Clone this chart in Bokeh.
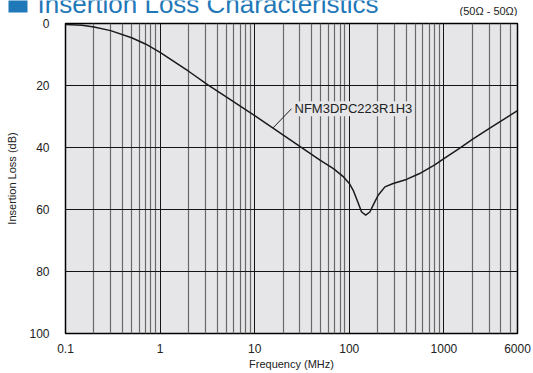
import numpy as np
from bokeh.plotting import figure
from bokeh.layouts import column
from bokeh.models import ColumnDataSource, FixedTicker, Label, Range1d
from bokeh.core.properties import value
from bokeh.embed import file_html
from bokeh.resources import INLINE

# ---- data ----
freq_mhz = [0.1, 0.15, 0.2, 0.3, 0.5, 0.7, 1, 1.5, 2, 3.2, 5, 10, 30, 49, 68, 87, 100, 110, 121, 135,
            149, 165, 182, 202, 238, 291, 402, 554, 800, 1000, 1460, 2000, 3000, 6000]
loss_db = [0.3, 0.6, 1.1, 2.3, 4.6, 6.6, 9.3, 12.9, 15.4, 19.8, 23.7, 29.7, 39.6, 44.1, 46.8, 49.5, 51.6,
           53.8, 57.0, 60.8, 61.8, 60.8, 58.1, 55.4, 52.7, 51.6, 50.3, 48.4, 45.6, 43.6, 40.3, 37.4, 33.9, 28.1]

x_tick_values = [0.1, 1, 10, 100, 1000, 6000]
x_tick_labels = ["0.1", "1", "10", "100", "1000", "6000"]
y_tick_values = [0, 20, 40, 60, 80, 100]
y_grid_values = [20, 40, 60, 80]

part_name = "NFM3DPC223R1H3"
title_text = "Insertion Loss Characteristics"
impedance_note = "(50\u03a9 - 50\u03a9)"
x_title = "Frequency (MHz)"
y_title = "Insertion Loss (dB)"

# annotation anchors (leader line from curve to part label)
leader_freq = 15.6
label_freq = 24.5
label_loss = 27.5

# ---- styles ----
FONT = "Liberation Sans"
BG = "#e6e6e8"
BLUE = "#1f78b8"
INK = "#222222"
W = 533
HEAD_H = 16
H = 373 - HEAD_H

# ---- header strip (title cut at the top like the reference, plus impedance note) ----
head = figure(width=W, height=HEAD_H, x_range=Range1d(0, W), y_range=Range1d(HEAD_H, 0),
              output_backend="svg", toolbar_location=None, min_border=0,
              background_fill_color="white", border_fill_color="white", outline_line_color=None)
head.frame_align = False
head.axis.visible = False
head.grid.visible = False
head.quad(left=[8], right=[27], top=[-12], bottom=[12], fill_color=BLUE, line_color=None)
head.text(x=[37], y=[3], text=[title_text], text_font=value(FONT), text_font_size="26px",
          text_color=BLUE, text_align="left", text_baseline="middle")
head.text(x=[517], y=[10.5], text=[impedance_note], text_font=value(FONT), text_font_size="11px",
          text_color=INK, text_align="right", text_baseline="middle")

# ---- main chart ----
p = figure(width=W, height=H, x_axis_type="log",
           x_range=Range1d(0.1, 6000), y_range=Range1d(100, 0),
           output_backend="svg", toolbar_location=None,
           min_border_left=65, min_border_right=16, min_border_top=7, min_border_bottom=40,
           background_fill_color=BG, border_fill_color="white",
           outline_line_color="black", outline_line_width=1.5)
p.frame_align = False

# grid
decades = [0.1, 1, 10, 100, 1000]
minor = [k * d for d in decades for k in range(2, 10) if k * d <= 6000]
p.xgrid.ticker = FixedTicker(ticks=decades, minor_ticks=minor)
p.xgrid.grid_line_color = "#141414"
p.xgrid.grid_line_width = 1
p.xgrid.minor_grid_line_color = "#686868"
p.xgrid.minor_grid_line_width = 1.2
p.ygrid.ticker = FixedTicker(ticks=y_grid_values)
p.ygrid.grid_line_color = "#141414"
p.ygrid.grid_line_width = 1

for ax in (p.xaxis[0], p.yaxis[0]):
    ax.axis_line_color = None
    ax.major_tick_in = 0
    ax.major_tick_out = 0
    ax.minor_tick_in = 0
    ax.minor_tick_out = 0
    ax.major_label_text_font = FONT
    ax.major_label_text_font_size = "12px"
    ax.major_label_text_color = INK
    ax.axis_label_text_font = FONT
    ax.axis_label_text_font_size = "11px"
    ax.axis_label_text_font_style = "normal"
    ax.axis_label_text_color = INK

p.yaxis.ticker = FixedTicker(ticks=y_tick_values)
p.yaxis.major_label_standoff = 16
p.yaxis.axis_label = y_title
p.yaxis.axis_label_standoff = 8

p.xaxis.ticker = FixedTicker(ticks=x_tick_values)
p.xaxis.major_label_overrides = {v: t for v, t in zip(x_tick_values, x_tick_labels)}
p.xaxis.major_label_standoff = 10
p.xaxis.axis_label = x_title
p.xaxis.axis_label_standoff = 2

# curve
src = ColumnDataSource(dict(f=freq_mhz, l=loss_db))
p.line("f", "l", source=src, line_color="#1a1a1a", line_width=1.5)

# leader line + part label
leader_loss = float(np.interp(np.log10(leader_freq), np.log10(freq_mhz), loss_db))
p.line([leader_freq, label_freq], [leader_loss, label_loss], line_color="#1a1a1a", line_width=1)
p.add_layout(Label(x=label_freq, y=label_loss, text=part_name, x_offset=3,
                   text_baseline="middle", text_align="left",
                   text_font=FONT, text_font_size="13px", text_color=INK,
                   background_fill_color=BG))

layout = column(head, p, spacing=0)
open("out.html", "w").write(file_html(layout, INLINE))
